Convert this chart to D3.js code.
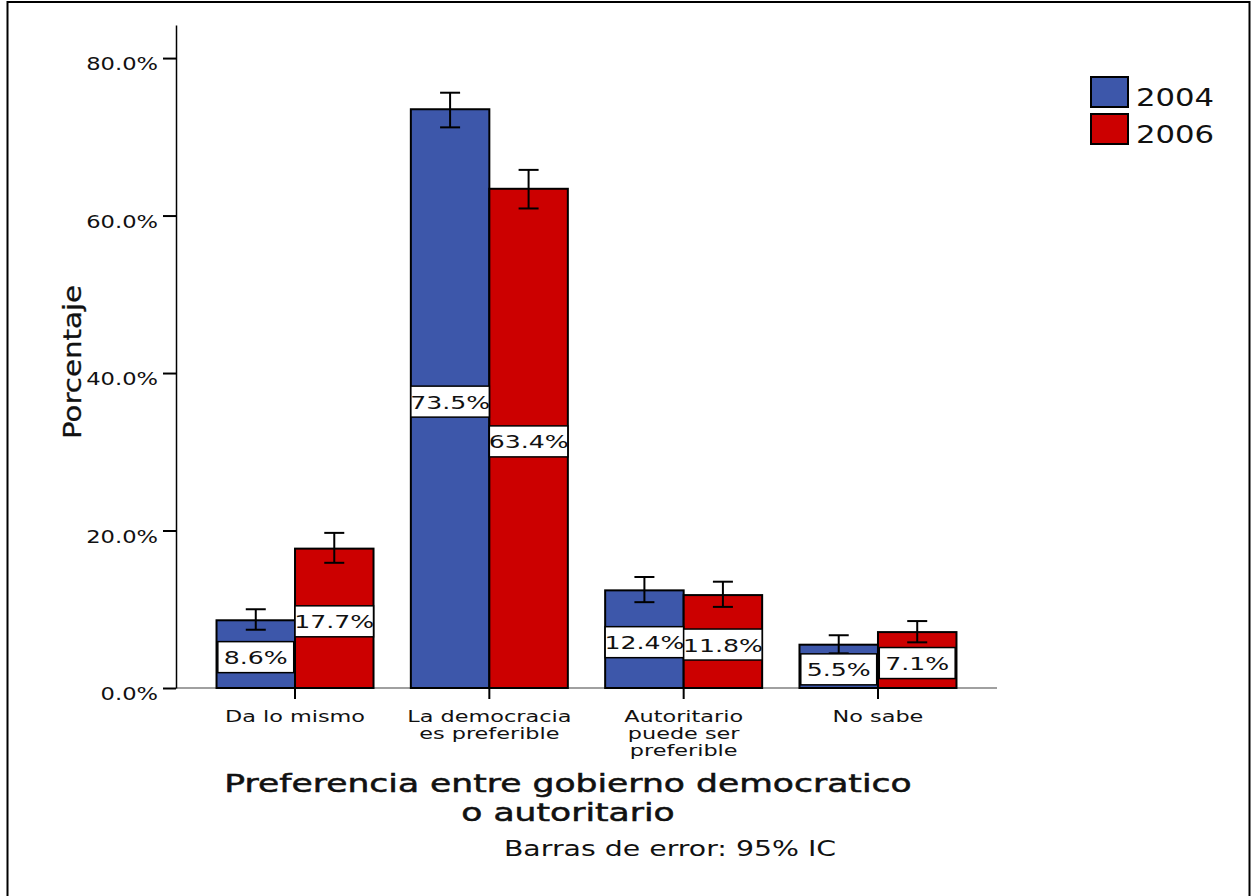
<!DOCTYPE html>
<html><head><meta charset="utf-8">
<script src="https://cdn.jsdelivr.net/npm/d3@7"></script>
<style>body{margin:0;background:#fff}svg{display:block}text{font-family:"DejaVu Sans",sans-serif;fill:#111}</style>
</head><body><svg id="c" width="1252" height="896"></svg>
<script>
const categories = ["Da lo mismo", "La democracia es preferible", "Autoritario puede ser preferible", "No sabe"];
const categoryLines = [["Da lo mismo"], ["La democracia", "es preferible"], ["Autoritario", "puede ser", "preferible"], ["No sabe"]];
const years = ["2004", "2006"];
const values2004 = [8.6, 73.5, 12.4, 5.5];
const values2006 = [17.7, 63.4, 11.8, 7.1];
const ciLow2004 = [7.4, 71.2, 10.9, 4.4];
const ciHigh2004 = [10.0, 75.6, 14.1, 6.7];
const ciLow2006 = [15.9, 60.9, 10.3, 5.8];
const ciHigh2006 = [19.7, 65.8, 13.5, 8.5];
const yTicks = [0, 20, 40, 60, 80];
const yTitle = "Porcentaje";
const xTitleLines = ["Preferencia entre gobierno democratico", "o autoritario"];
const note = "Barras de error: 95% IC";

const colors = {"2004": "#3d57aa", "2006": "#cc0000"};
const series = {"2004": {v: values2004, lo: ciLow2004, hi: ciHigh2004}, "2006": {v: values2006, lo: ciLow2006, hi: ciHigh2006}};

const svg = d3.select("#c");
const S = 1.33;
function st(sel, x, y, s, rot) {
  sel.attr("x", 0).attr("y", 0)
     .attr("transform", `translate(${x},${y})` + (rot ? ` rotate(${rot})` : "") + ` scale(${s},1)`);
  return sel;
}

// frame
svg.append("rect").attr("x", 7.5).attr("y", 2).attr("width", 1242).attr("height", 920)
  .attr("fill", "none").attr("stroke", "#000").attr("stroke-width", 2);

const y = d3.scaleLinear().domain([0, 84.2]).range([688, 25]);
const x0 = d3.scalePoint().domain(categories).range([176, 997]).padding(0.6125);
const x1 = d3.scaleBand().domain(years).range([-78.5, 78.5]);

// x baseline
svg.append("line").attr("x1", 176).attr("x2", 997).attr("y1", y(0)).attr("y2", y(0))
  .attr("stroke", "#808080").attr("stroke-width", 1.5);

// bars
const g = svg.append("g");
categories.forEach((c, i) => {
  years.forEach(yr => {
    const v = series[yr].v[i];
    g.append("rect").attr("x", x0(c) + x1(yr)).attr("width", x1.bandwidth())
      .attr("y", y(v)).attr("height", y(0) - y(v))
      .attr("fill", colors[yr]).attr("stroke", "#000").attr("stroke-width", 2);
  });
});

// error bars
categories.forEach((c, i) => {
  years.forEach(yr => {
    const cx = x0(c) + x1(yr) + x1.bandwidth() / 2;
    const lo = series[yr].lo[i], hi = series[yr].hi[i];
    const eb = g.append("g").attr("stroke", "#000").attr("stroke-width", 2);
    eb.append("line").attr("x1", cx).attr("x2", cx).attr("y1", y(lo)).attr("y2", y(hi));
    eb.append("line").attr("x1", cx - 10).attr("x2", cx + 10).attr("y1", y(lo)).attr("y2", y(lo));
    eb.append("line").attr("x1", cx - 10).attr("x2", cx + 10).attr("y1", y(hi)).attr("y2", y(hi));
  });
});

// value labels
const LS = 1.36;
categories.forEach((c, i) => {
  years.forEach(yr => {
    const v = series[yr].v[i];
    const cx = x0(c) + x1(yr) + x1.bandwidth() / 2;
    const cy = y(v / 2) + 3;
    const lg = g.append("g");
    const box = lg.append("rect");
    const t = lg.append("text").attr("text-anchor", "middle").attr("font-size", 18.5)
      .text(v.toFixed(1) + "%");
    st(t, cx, cy + 7, LS);
    const w = Math.min(t.node().getComputedTextLength() * LS + 12, x1.bandwidth());
    box.attr("x", cx - w / 2).attr("width", w).attr("y", cy - 15.5).attr("height", 31)
      .attr("fill", "#fff").attr("stroke", "#000").attr("stroke-width", 1.5);
  });
});

// y axis
const ya = svg.append("g").attr("transform", "translate(176,0)")
  .call(d3.axisLeft(y).tickValues(yTicks).tickFormat(d => d.toFixed(1) + "%").tickSize(13).tickSizeOuter(0));
ya.select(".domain").attr("stroke", "#000").attr("stroke-width", 1.5);
ya.selectAll(".tick line").attr("stroke", "#000").attr("stroke-width", 2);
ya.selectAll(".tick text").attr("font-size", 17).attr("font-family", "DejaVu Sans").attr("fill", "#111")
  .attr("dy", null).attr("x", -18 / S).attr("y", 11.5).attr("transform", `scale(${S},1)`);

// x ticks
categories.forEach(c => {
  svg.append("line").attr("x1", x0(c)).attr("x2", x0(c)).attr("y1", y(0)).attr("y2", y(0) + 11)
    .attr("stroke", "#000").attr("stroke-width", 2);
});
categories.forEach((c, i) => {
  categoryLines[i].forEach((ln, j) => {
    const t = svg.append("text").attr("text-anchor", "middle").attr("font-size", 16.2).text(ln);
    st(t, x0(c), 722 + j * 17.2, 1.38);
  });
});

// titles
st(svg.append("text").attr("text-anchor", "middle").attr("font-size", 24).attr("stroke", "#111").attr("stroke-width", 0.3).text(yTitle), 81, 362, 1.22, -90);
xTitleLines.forEach((ln, j) => {
  st(svg.append("text").attr("text-anchor", "middle").attr("font-size", 24).attr("stroke", "#111").attr("stroke-width", 0.5).text(ln), 568, 792 + j * 29, 1.44);
});
st(svg.append("text").attr("text-anchor", "middle").attr("font-size", 21.5).text(note), 670, 856, 1.32);

// legend
years.forEach((yr, j) => {
  svg.append("rect").attr("x", 1091).attr("y", 77 + j * 37).attr("width", 37).attr("height", 30)
    .attr("fill", colors[yr]).attr("stroke", "#000").attr("stroke-width", 2);
  st(svg.append("text").attr("font-size", 24).text(yr), 1136, 106 + j * 37, 1.28);
});
</script></body></html>
